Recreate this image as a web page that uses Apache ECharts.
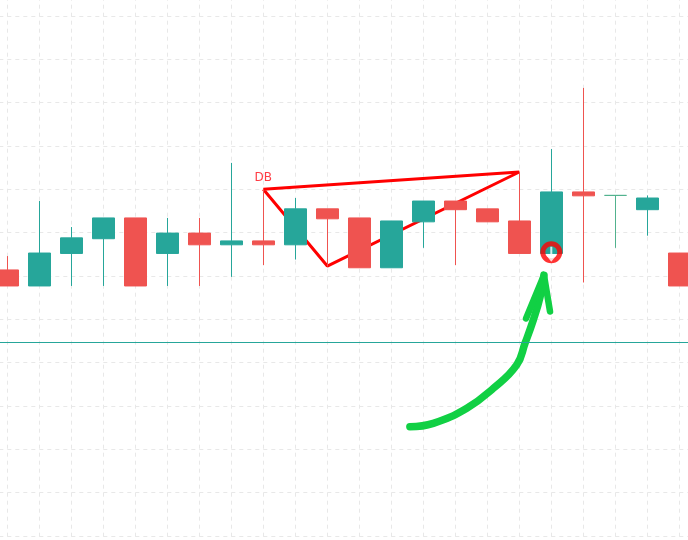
<!DOCTYPE html>
<html>
<head>
<meta charset="utf-8">
<script src="https://cdn.jsdelivr.net/npm/echarts@6/dist/echarts.min.js"></script>
<style>
  html, body { margin: 0; padding: 0; background: #fff; }
  #main { width: 688px; height: 540px; }
</style>
</head>
<body>
<div id="main"></div>
<script>
// bar slots, one empty slot off screen on each side
const categories = ['', '09:00', '09:15', '09:30', '09:45', '10:00', '10:15', '10:30', '10:45',
    '11:00', '11:15', '11:30', '11:45', '12:00', '12:15', '12:30', '12:45', '13:00',
    '13:15', '13:30', '13:45', '14:00', '14:15', ''];

const opens  = [71.4, 67.7, 75.2, 78.6, 83.4, 75.2, 79.9, 77.2, 78.1, 77.2, 85.5,
                83.4, 71.9, 82.5, 87.3, 85.5, 82.7, 75.2, 89.4, 88.6, 85.3, 75.3];
const closes = [67.7, 75.3, 78.8, 83.4, 67.7, 79.9, 77.2, 78.1, 77.2, 85.5, 83.2,
                71.9, 82.7, 87.3, 85.3, 82.5, 75.2, 89.4, 88.5, 88.6, 88.0, 67.7];
const lows   = [67.7, 67.7, 67.7, 67.7, 67.7, 67.7, 67.7, 69.8, 72.5, 73.8, 72.2,
                71.9, 71.9, 76.5, 72.5, 82.5, 75.2, 75.2, 68.5, 76.5, 79.3, 67.7];
const highs  = [74.6, 87.3, 81.3, 83.4, 83.4, 83.4, 83.4, 96.1, 90.0, 88.0, 85.5,
                83.4, 82.7, 87.3, 87.3, 85.5, 94.0, 99.3, 113.4, 88.6, 88.6, 75.3];

// horizontal level
const levelValue = 54.8;

// DB pattern: slot index / price
const dbX = [9, 11, 17, 9];
const dbY = [90.0, 72.3, 94.0, 90.0];

// signal marker
const signalX = [18];
const signalY = [75.5];

// hand drawn arrow
const arrowX = [13.58, 14.31, 15.36, 16.19, 16.92, 17.18, 17.44, 17.65, 17.77];
const arrowY = [35.2, 36.0, 39.5, 44.1, 49.5, 54.5, 59.9, 65.2, 70.2];
const headX = [17.21, 17.77, 17.96];
const headY = [60.2, 70.2, 61.8];

const candleData = ['-'];
for (let i = 0; i < opens.length; i++) {
    candleData.push([opens[i], closes[i], lows[i], highs[i]]);
}
candleData.push('-');

function pairs(xs, ys) {
    return xs.map(function (x, i) { return [x, ys[i]]; });
}

const chart = echarts.init(document.getElementById('main'));

chart.setOption({
    animation: false,
    backgroundColor: '#ffffff',
    grid: {
        left: -24.7,
        right: -23.3,
        top: -27.33,
        bottom: -39.33,
        containLabel: false,
        outerBoundsMode: 'none'
    },
    xAxis: [
        {
            type: 'category',
            data: categories,
            boundaryGap: false,
            axisLine: { show: false },
            axisTick: { show: false },
            axisLabel: { show: false, interval: 0 },
            splitLine: {
                show: true,
                interval: 0,
                lineStyle: { color: '#e8e8e8', type: [4, 4] }
            }
        },
        {
            type: 'value',
            min: 0,
            max: categories.length - 1,
            show: false,
            splitLine: { show: false }
        }
    ],
    yAxis: {
        type: 'value',
        min: 0,
        max: 140,
        interval: 10,
        axisLine: { show: false },
        axisTick: { show: false },
        axisLabel: { show: false },
        splitLine: {
            show: true,
            lineStyle: { color: '#e8e8e8', type: [4, 4] }
        }
    },
    series: [
        {
            name: 'DB',
            type: 'line',
            xAxisIndex: 1,
            z: 1,
            symbol: 'none',
            data: pairs(dbX, dbY),
            lineStyle: { color: '#ff0000', width: 3 }
        },
        {
            name: 'price',
            type: 'candlestick',
            z: 2,
            barWidth: 22,
            data: candleData,
            itemStyle: {
                color: '#26a69a',
                color0: '#ef5350',
                borderColor: '#26a69a',
                borderColor0: '#ef5350',
                borderColorDoji: '#52b28e',
                borderWidth: 1
            },
            markLine: {
                silent: true,
                symbol: 'none',
                label: { show: false },
                lineStyle: { color: '#26a69a', width: 1, type: 'solid' },
                data: [{ yAxis: levelValue }]
            }
        },
        {
            name: 'label',
            type: 'scatter',
            xAxisIndex: 1,
            z: 3,
            symbolSize: 0,
            data: [[dbX[0], dbY[0]]],
            label: {
                show: true,
                position: 'top',
                distance: 5,
                formatter: 'DB',
                color: '#ff0a14',
                fontSize: 12,
                fontFamily: 'DejaVu Sans'
            }
        },
        {
            name: 'signal',
            type: 'scatter',
            xAxisIndex: 1,
            z: 4,
            symbol: 'circle',
            symbolSize: 17,
            data: pairs(signalX, signalY),
            itemStyle: { color: 'rgba(0,0,0,0)', borderColor: '#ff0000', borderWidth: 5 }
        },
        {
            name: 'signalArrow',
            type: 'scatter',
            xAxisIndex: 1,
            z: 5,
            symbol: 'path://M4,0 L6,0 L6,7 L10,7 L5,12 L0,7 L4,7 Z',
            symbolSize: [10, 15],
            symbolOffset: [0, 2],
            data: pairs(signalX, signalY),
            itemStyle: { color: '#ffffff' }
        },
        {
            name: 'arrow',
            type: 'line',
            xAxisIndex: 1,
            z: 3,
            symbol: 'none',
            smooth: 0.45,
            data: pairs(arrowX, arrowY),
            lineStyle: { color: '#11d044', width: 7.5, cap: 'round', join: 'round' }
        },
        {
            name: 'arrowHead',
            type: 'line',
            xAxisIndex: 1,
            z: 3,
            symbol: 'none',
            data: pairs(headX, headY),
            lineStyle: { color: '#11d044', width: 6.5, cap: 'round', join: 'round' }
        }
    ]
});
</script>
</body>
</html>
